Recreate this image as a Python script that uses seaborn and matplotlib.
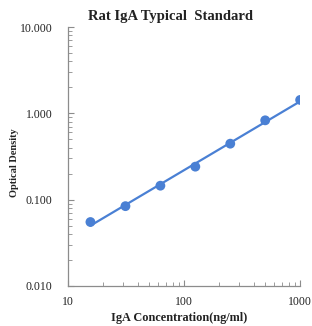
import numpy as np
import pandas as pd
import matplotlib
matplotlib.use("Agg")
import matplotlib.pyplot as plt
import seaborn as sns
from matplotlib.ticker import FixedLocator, FixedFormatter, LogLocator, NullFormatter

# standard curve readings
conc = [15.6, 31.25, 62.5, 125, 250, 500, 1000]
od = [0.055, 0.084, 0.145, 0.241, 0.445, 0.83, 1.43]

y_ticks = [0.01, 0.1, 1, 10]
y_labels = ["0.010", "0.100", "1.000", "10.000"]
x_ticks = [10, 100, 1000]
x_labels = ["10", "100", "1000"]

df = pd.DataFrame({"conc": conc, "od": od})

sns.set_style("white")
serif = ["Liberation Serif", "DejaVu Serif"]
plt.rcParams["font.family"] = serif

blue = "#4a80d4"
axis_grey = "#8c8c8c"
text_col = "#222222"

fig = plt.figure(figsize=(3.12, 3.26), dpi=100)
ax = fig.add_axes([0.218, 0.123, 0.744, 0.794])

# power-law trend line through the standards
k, b = np.polyfit(np.log10(df["conc"]), np.log10(df["od"]), 1)
xs = np.array([df["conc"].min(), df["conc"].max()])
ax.plot(xs, 10 ** (b + k * np.log10(xs)), color=blue, lw=1.6, zorder=2)

sns.scatterplot(data=df, x="conc", y="od", color=blue, s=50, edgecolor="none",
                ax=ax, zorder=3)

ax.set_xscale("log")
ax.set_yscale("log")
ax.set_xlim(10, 1000)
ax.set_ylim(0.01, 10)

ax.yaxis.set_major_locator(FixedLocator(y_ticks))
ax.yaxis.set_major_formatter(FixedFormatter(y_labels))
ax.xaxis.set_major_locator(FixedLocator(x_ticks))
ax.xaxis.set_major_formatter(FixedFormatter(x_labels))
for a in (ax.xaxis, ax.yaxis):
    a.set_minor_locator(LogLocator(base=10, subs=np.arange(2, 10)))
    a.set_minor_formatter(NullFormatter())

ax.tick_params(which="both", direction="in", bottom=True, left=True,
               color=axis_grey, labelsize=8.5, labelcolor=text_col)
ax.tick_params(which="major", length=4, width=0.8)
ax.tick_params(which="minor", length=3, width=0.6)
ax.tick_params(axis="y", which="major", pad=11)
ax.tick_params(axis="x", which="major", pad=7)

for side in ["top", "right"]:
    ax.spines[side].set_visible(False)
for side in ["left", "bottom"]:
    ax.spines[side].set_color(axis_grey)
    ax.spines[side].set_linewidth(0.9)

fig.text(0.548, 0.949, "Rat IgA Typical  Standard", fontweight="bold",
         fontsize=10.5, color=text_col, ha="center", va="center")
ax.set_xlabel("IgA Concentration(ng/ml)", fontweight="bold",
              fontsize=8.8, color=text_col)
ax.xaxis.set_label_coords(0.48, -0.1)
ax.set_ylabel("Optical Density", fontweight="bold",
              fontsize=7.5, color=text_col)
ax.yaxis.set_label_coords(-0.21, 0.475)

fig.savefig("out.png", dpi=100)
